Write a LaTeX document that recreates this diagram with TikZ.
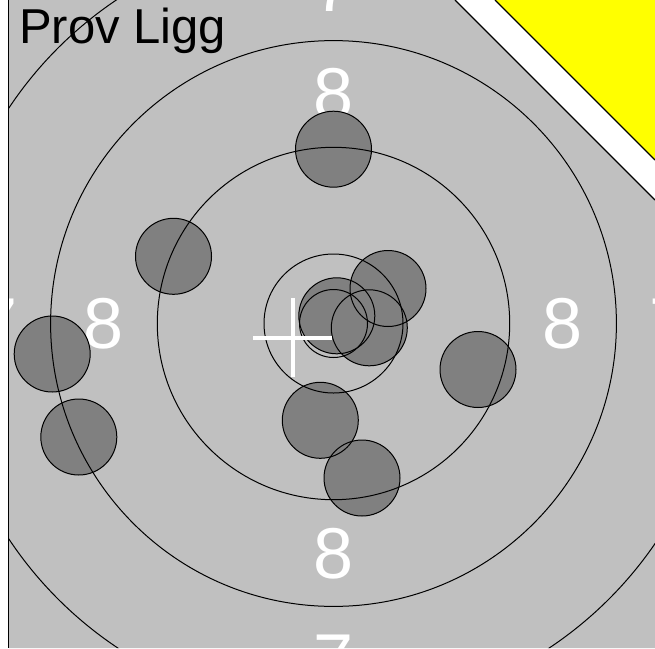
\documentclass[tikz,border=0pt]{standalone}
\usepackage{fontspec}
\setmainfont{Liberation Sans}
\definecolor{bggrey}{HTML}{C0C0C0}
\definecolor{shotgrey}{HTML}{808080}
\definecolor{tyellow}{HTML}{FFFF00}
\begin{document}
\begin{tikzpicture}[x=1pt,y=-1pt,
  ringline/.style={draw=black,line width=1pt},
  shotfill/.style={fill=shotgrey},
  shotline/.style={draw=black,line width=1pt},
  num/.style={text=white,font=\fontsize{72}{72}\selectfont,inner sep=0pt,anchor=center},
  crossline/.style={draw=white,line width=4pt},
  edge/.style={draw=black,line width=1.2pt}]
\path[use as bounding box,fill=white] (0,0) rectangle (655,648);
\fill[bggrey] (9,0) -- (455,0) -- (655,200) -- (655,648) -- (9,648) -- cycle;
\fill[tyellow] (495,0) -- (655,0) -- (655,160) -- cycle;
\draw[edge] (495,0) -- (655,160);
\begin{scope}
\clip (9,0) -- (455,0) -- (655,200) -- (655,648) -- (9,648) -- cycle;
\coordinate (c) at (333.5,323.5);
% numbers
\node[num] (n8t) at (333.5,94) {8};
\node[num] (n8b) at (333.5,553.5) {8};
\node[num] (n8l) at (104,323.5) {8};
\node[num] (n8r) at (563,323.5) {8};
\node[num] (n7t) at (333.5,-12.8) {7};
\node[num] (n7b) at (333.5,659.8) {7};
\node[num] (n7l) at (-2.8,323.5) {7};
\node[num] (n7r) at (669.8,323.5) {7};
% shot fills
\foreach \p in {(333.5,149.2),(173.5,256.3),(388,288.5),(336.8,315.8),(369.3,327.8),(52.2,354),(478,369.5),(320.3,420.3),(78.8,437),(362,478)}
  \path[shotfill] \p circle[radius=38];
% rings
\foreach \r in {34,69.5,176.2,282.9,389.6}
  \path[ringline] (c) circle[radius=\r];
% shot outlines
\foreach \p in {(333.5,149.2),(173.5,256.3),(388,288.5),(336.8,315.8),(369.3,327.8),(52.2,354),(478,369.5),(320.3,420.3),(78.8,437),(362,478)}
  \path[shotline] \p circle[radius=38];
% aim cross
\coordinate (xl) at (253.3,337.7);
\coordinate (xr) at (331.7,337.7);
\coordinate (xt) at (292.5,298.3);
\coordinate (xb) at (292.5,376.7);
\draw[crossline] (xl) -- (xr);
\draw[crossline] (xt) -- (xb);
\end{scope}
\draw[edge] (455,0) -- (655,200);
\draw[draw=black,line width=1.6pt] (8.3,0) -- (8.3,648);
\node[anchor=base west,inner sep=0pt,font=\fontsize{49}{49}\selectfont] (title) at (19,43) {Prov Ligg};
\end{tikzpicture}
\end{document}
